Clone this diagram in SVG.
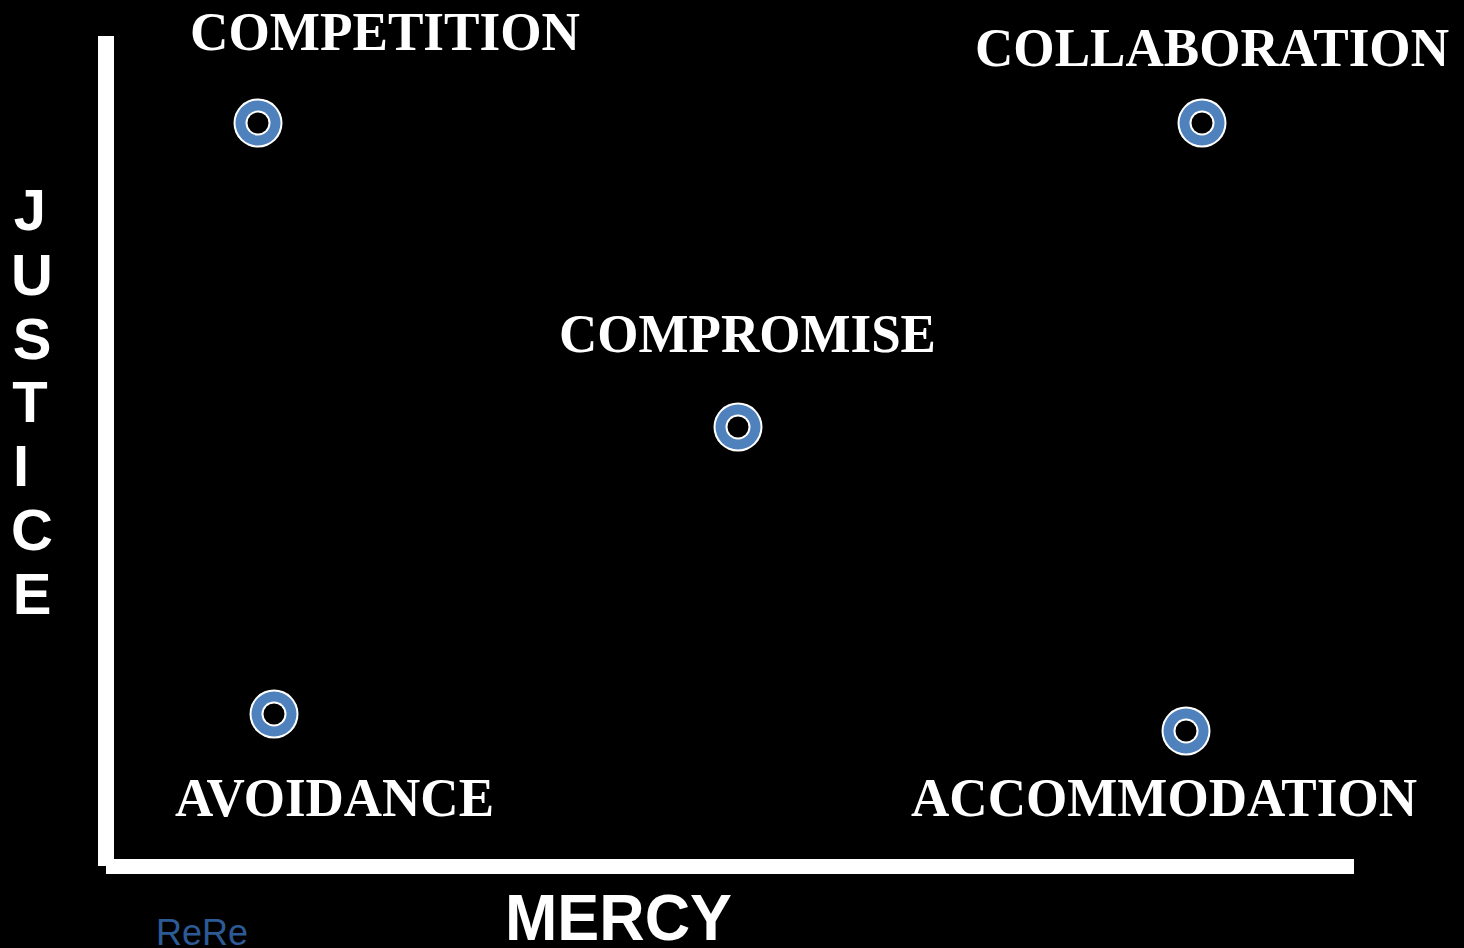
<svg xmlns="http://www.w3.org/2000/svg" width="1464" height="948" viewBox="0 0 1464 948">
<defs>
<style>
.lbl{font-family:"Liberation Serif","Times New Roman",serif;font-weight:bold;fill:#fff;font-size:54px}
.ax{font-family:"Liberation Sans",Arial,sans-serif;font-weight:bold;fill:#fff}
.o1{fill:#fff}.o2{fill:#4f81bd}.o3{fill:#fff}.o4{fill:#000}
</style>
<g id="ring">
<circle r="24.5" class="o1"/><circle r="22.5" class="o2"/><circle r="12.5" class="o3"/><circle r="10.5" class="o4"/>
</g>
</defs>
<rect width="1464" height="948" fill="#000"/>
<g id="axes">
<rect x="98" y="36" width="16" height="830" fill="#fff"/>
<rect x="106" y="859" width="1248" height="15" fill="#fff"/>
</g>
<g id="justice" class="ax" font-size="58">
<text x="30" y="230" text-anchor="middle">J</text>
<text x="32" y="295" text-anchor="middle">U</text>
<text x="32" y="359" text-anchor="middle">S</text>
<text x="30" y="422" text-anchor="middle">T</text>
<text x="21" y="486" text-anchor="middle">I</text>
<text x="32" y="550" text-anchor="middle">C</text>
<text x="32" y="614" text-anchor="middle">E</text>
</g>
<g id="mercy"><text class="ax" x="505" y="940" font-size="64" textLength="227" lengthAdjust="spacingAndGlyphs">MERCY</text></g>
<g id="rere"><text x="156" y="945" font-family="Liberation Sans,Arial,sans-serif" font-size="36" fill="#2c5a96">ReRe</text></g>
<g id="competition"><use href="#ring" x="258" y="123"/><text class="lbl" x="190" y="50" textLength="390" lengthAdjust="spacingAndGlyphs">COMPETITION</text></g>
<g id="collaboration"><use href="#ring" x="1202" y="123"/><text class="lbl" x="975" y="66" textLength="474" lengthAdjust="spacingAndGlyphs">COLLABORATION</text></g>
<g id="compromise"><use href="#ring" x="738" y="427"/><text class="lbl" x="559" y="352" textLength="377" lengthAdjust="spacingAndGlyphs">COMPROMISE</text></g>
<g id="avoidance"><use href="#ring" x="274" y="714"/><text class="lbl" x="175" y="816" textLength="319" lengthAdjust="spacingAndGlyphs">AVOIDANCE</text></g>
<g id="accommodation"><use href="#ring" x="1186" y="731"/><text class="lbl" x="911" y="816" textLength="506" lengthAdjust="spacingAndGlyphs">ACCOMMODATION</text></g>
</svg>
